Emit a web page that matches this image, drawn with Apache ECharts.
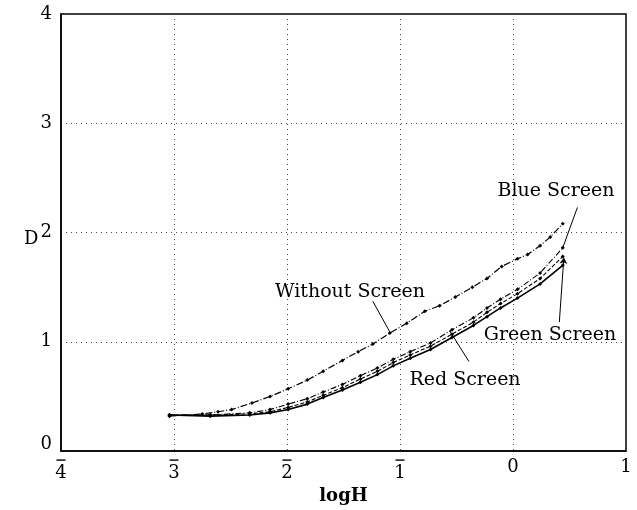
<!DOCTYPE html>
<html>
<head>
<meta charset="utf-8">
<script src="https://cdn.jsdelivr.net/npm/echarts@6/dist/echarts.min.js"></script>
<style>html,body{margin:0;padding:0;background:#fff;}#c{width:637px;height:510px;}</style>
</head>
<body>
<div id="c"></div>
<script>
// ---- data ----
const xTicks = [-4, -3, -2, -1, 0, 1];
const yTicks = [0, 1, 2, 3, 4];

const withoutX = [-3.04,-2.75,-2.61,-2.49,-2.31,-2.15,-1.99,-1.82,-1.68,-1.51,-1.37,-1.24,-1.09,-0.94,-0.78,-0.65,-0.51,-0.36,-0.23,-0.10,0.04,0.13,0.24,0.33,0.44];
const withoutD = [0.32,0.34,0.36,0.38,0.44,0.50,0.57,0.65,0.73,0.83,0.91,0.98,1.08,1.17,1.28,1.33,1.41,1.50,1.58,1.69,1.76,1.80,1.88,1.96,2.08];

const screenX = [-3.04,-2.68,-2.33,-2.15,-1.99,-1.82,-1.68,-1.51,-1.35,-1.20,-1.06,-0.91,-0.73,-0.54,-0.35,-0.23,-0.11,0.04,0.24,0.44];
const blueD  = [0.33,0.33,0.35,0.38,0.43,0.48,0.54,0.61,0.69,0.76,0.84,0.91,0.99,1.11,1.22,1.31,1.39,1.48,1.63,1.86];
const greenD = [0.33,0.33,0.34,0.36,0.40,0.45,0.51,0.58,0.66,0.73,0.81,0.88,0.96,1.07,1.18,1.27,1.35,1.44,1.58,1.78];
const redD   = [0.33,0.32,0.33,0.35,0.38,0.43,0.49,0.56,0.63,0.70,0.78,0.85,0.93,1.04,1.15,1.23,1.31,1.40,1.53,1.70];

// annotation leader lines, in data coordinates [from, to]
const leaderWithout = [[-1.24, 1.37], [-1.09, 1.09]];
const leaderBlue    = [[0.57, 2.23], [0.44, 1.86]];
const leaderGreen   = [[0.41, 1.18], [0.45, 1.77]];
const leaderRed     = [[-0.39, 0.82], [-0.56, 1.10]];

const seriesNames = ['Without Screen', 'Blue Screen', 'Green Screen', 'Red Screen'];

// ---- chart ----
const FONT = 'DejaVu Serif';
const pair = (xs, ys) => xs.map((x, i) => [x, ys[i]]);
const leader = (l, arrow) => ({
  silent: true, animation: false,
  symbol: ['none', arrow ? 'arrow' : 'none'], symbolSize: arrow ? 6 : 0,
  label: { show: false },
  lineStyle: { color: '#000', width: 1, type: 'solid' },
  data: [[{ coord: l[0] }, { coord: l[1] }]]
});

const chart = echarts.init(document.getElementById('c'), null, { renderer: 'canvas' });

function mkSeries(name, data, lineType, width, l, arrow) {
  return {
    name, type: 'line', data,
    showSymbol: true, symbol: 'diamond', symbolSize: 4,
    itemStyle: { color: '#000' },
    lineStyle: { color: '#000', width, type: lineType },
    animation: false,
    markLine: leader(l, arrow)
  };
}

chart.setOption({
  backgroundColor: '#fff',
  animation: false,
  grid: { left: 61, right: 11, top: 14, bottom: 57, show: true, borderColor: '#000', borderWidth: 1.5, backgroundColor: 'transparent' },
  xAxis: {
    type: 'value', min: -4, max: 1, interval: 1,
    name: 'logH', nameLocation: 'middle', nameGap: 28,
    nameTextStyle: { fontFamily: FONT, fontSize: 18, fontWeight: 'bold', color: '#000' },
    axisLine: { show: true, onZero: false, lineStyle: { color: '#000', width: 1.5 } },
    axisTick: { show: false },
    splitLine: { show: true, lineStyle: { color: '#444', width: 1, type: [1, 4] } },
    axisLabel: {
      margin: 6,
      fontFamily: FONT, fontSize: 18, color: '#000',
      formatter: v => v < 0 ? '{bar| }\n{n|' + Math.abs(v) + '}' : '{n|' + v + '}',
      rich: {
        bar: { width: 9, height: 1.4, lineHeight: 6, fontSize: 1, backgroundColor: '#000' },
        n: { fontFamily: FONT, fontSize: 18, lineHeight: 20, color: '#000' }
      }
    }
  },
  yAxis: {
    type: 'value', min: 0, max: 4, interval: 1,
    axisLine: { show: true, onZero: false, lineStyle: { color: '#000', width: 1.5 } },
    axisTick: { show: false },
    splitLine: { show: true, lineStyle: { color: '#444', width: 1, type: [1, 4] } },
    axisLabel: {
      margin: 9, fontFamily: FONT, fontSize: 18, color: '#000',
      formatter: v => v === 0 ? '{z|0}' : String(v),
      rich: { z: { fontFamily: FONT, fontSize: 18, color: '#000', padding: [0, 0, 14, 0] } }
    }
  },
  series: [
    mkSeries(seriesNames[0], pair(withoutX, withoutD), [7, 2, 1, 2], 1.2, leaderWithout, false),
    mkSeries(seriesNames[1], pair(screenX, blueD), [6, 2, 1, 2], 1.1, leaderBlue, false),
    mkSeries(seriesNames[2], pair(screenX, greenD), [4, 2], 1.1, leaderGreen, true),
    mkSeries(seriesNames[3], pair(screenX, redD), 'solid', 1.6, leaderRed, false)
  ],
  graphic: [
    { type: 'text', left: 24, top: 230, style: { text: 'D', fontFamily: FONT, fontSize: 18, fill: '#000' } },
    { type: 'text', x: 350, y: 292, style: { text: 'Without Screen', fontFamily: FONT, fontSize: 19, fill: '#000', align: 'center', verticalAlign: 'middle' } },
    { type: 'text', x: 556, y: 191, style: { text: 'Blue Screen', fontFamily: FONT, fontSize: 19, fill: '#000', align: 'center', verticalAlign: 'middle' } },
    { type: 'text', x: 550, y: 335, style: { text: 'Green Screen', fontFamily: FONT, fontSize: 19, fill: '#000', align: 'center', verticalAlign: 'middle' } },
    { type: 'text', x: 465, y: 380, style: { text: 'Red Screen', fontFamily: FONT, fontSize: 19, fill: '#000', align: 'center', verticalAlign: 'middle' } }
  ]
});
</script>
</body>
</html>
